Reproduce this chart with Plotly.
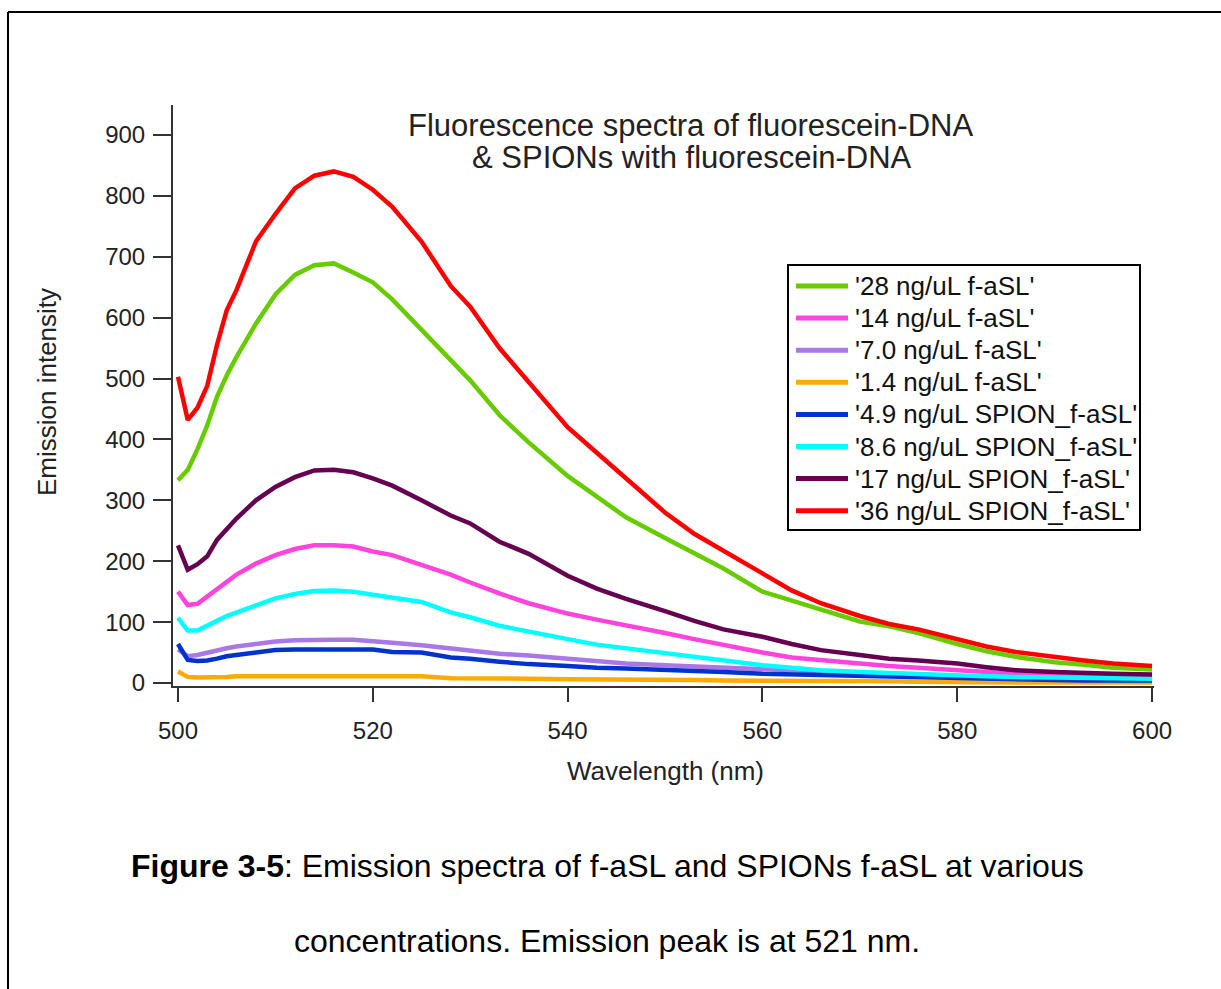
import plotly.graph_objects as go

wavelength = [500, 501, 502, 503, 504, 505, 506, 508, 510, 512, 514, 516, 518, 520, 522, 525, 528, 530,
              533, 536, 540, 543, 546, 550, 553, 556, 560, 563, 566, 570, 573, 576, 580, 583, 586, 590,
              593, 596, 600]

f28 = [333, 350, 384, 423, 470, 505, 535, 590, 638, 670, 686, 689, 674, 658, 630, 580, 530, 497,
       440, 395, 340, 307, 272, 238, 212, 188, 150, 135, 121, 101, 93, 82, 64, 52, 43, 34, 30, 25, 22]
f14 = [150, 128, 130, 142, 154, 166, 178, 196, 210, 220, 226, 226, 224, 216, 210, 194, 178, 165,
       147, 131, 114, 104, 95, 82, 72, 62, 50, 42, 37, 32, 28, 25, 21, 18, 15, 13, 11, 10, 10]
f7 = [55, 44, 46, 50, 54, 57, 60, 64, 68, 70, 71, 71, 71, 69, 66, 62, 57, 53,
      48, 45, 40, 35, 32, 29, 27, 25, 22, 20, 18, 16, 14, 13, 11, 10, 9, 8, 7, 6, 6]
f1_4 = [19, 10, 9, 9, 9, 10, 11, 11, 11, 11, 11, 11, 11, 11, 11, 11, 8, 8,
        7, 7, 6, 6, 6, 5, 5, 4, 4, 3, 3, 3, 3, 2, 1, 1, 1, 1, 1, 1, 1]
s4_9 = [64, 38, 36, 37, 40, 44, 46, 50, 54, 55, 55, 55, 55, 55, 51, 50, 42, 40,
        35, 31, 28, 25, 24, 22, 20, 18, 15, 14, 12, 11, 10, 9, 8, 7, 6, 5, 4, 4, 4]
s8_6 = [107, 86, 86, 95, 102, 110, 116, 128, 139, 146, 151, 152, 150, 145, 140, 133, 116, 108,
        94, 84, 72, 63, 57, 49, 43, 36, 29, 25, 21, 18, 16, 14, 13, 11, 10, 9, 8, 7, 7]
s17 = [226, 186, 195, 208, 235, 252, 270, 300, 322, 338, 349, 350, 346, 336, 324, 300, 275, 262,
       232, 212, 176, 155, 138, 118, 102, 88, 76, 64, 54, 46, 40, 37, 32, 26, 21, 18, 16, 15, 14]
s36 = [503, 432, 452, 488, 555, 612, 645, 725, 770, 812, 833, 840, 831, 810, 782, 725, 652, 618,
       550, 495, 420, 378, 335, 280, 245, 218, 180, 152, 131, 110, 97, 88, 71, 60, 51, 42, 37, 32, 28]

names = ["'28 ng/uL f-aSL'", "'14 ng/uL f-aSL'", "'7.0 ng/uL f-aSL'", "'1.4 ng/uL f-aSL'",
         "'4.9 ng/uL SPION_f-aSL'", "'8.6 ng/uL SPION_f-aSL'", "'17 ng/uL SPION_f-aSL'",
         "'36 ng/uL SPION_f-aSL'"]
series = [f28, f14, f7, f1_4, s4_9, s8_6, s17, s36]
colors = ["#66CC00", "#FF44DD", "#AA77E6", "#FFAA00", "#0033CC", "#00FFFF", "#660050", "#FF0000"]

xticks = [500, 520, 540, 560, 580, 600]
yticks = [0, 100, 200, 300, 400, 500, 600, 700, 800, 900]

FONT = "Arial, Liberation Sans, sans-serif"

fig = go.Figure()
for n, s, c in zip(names, series, colors):
    fig.add_trace(go.Scatter(x=wavelength, y=s, name=n, mode="lines", showlegend=False,
                             line=dict(color=c, width=4.5)))

# pixel helpers for paper coordinates
L, R, T, B = 173, 1154, 105, 686
def px(x):
    return (x - L) / (R - L)
def py(y):
    return (B - y) / (B - T)

fig.update_layout(
    width=1221, height=989,
    margin=dict(l=L, r=1221 - R, t=T, b=989 - B),
    paper_bgcolor="white", plot_bgcolor="white",
    font=dict(family=FONT, color="#222222", size=24),
    showlegend=False,
    xaxis=dict(range=[499.487, 600.2], tickvals=xticks, ticks="outside", ticklen=14,
               tickwidth=2, tickcolor="#333333", showline=True, linecolor="#333333",
               linewidth=2, showgrid=False, zeroline=False, ticklabelstandoff=8,
               tickfont=dict(size=24, family=FONT, color="#222222")),
    yaxis=dict(range=[-4.93, 949.1], tickvals=yticks, ticks="outside", ticklen=18,
               tickwidth=2, tickcolor="#333333", showline=True, linecolor="#333333",
               linewidth=2, showgrid=False, zeroline=False, ticklabelstandoff=3,
               tickfont=dict(size=24, family=FONT, color="#222222")),
)

# legend box drawn by hand to match the original's compact spacing
fig.add_shape(type="rect", xref="paper", yref="paper", x0=px(788), x1=px(1140),
              y0=py(530), y1=py(265), fillcolor="white", line=dict(color="black", width=2),
              layer="above")
for i, (n, c) in enumerate(zip(names, colors)):
    yy = 286 + i * 32.1
    fig.add_shape(type="line", xref="paper", yref="paper", x0=px(796), x1=px(848),
                  y0=py(yy), y1=py(yy), line=dict(color=c, width=5), layer="above")
    fig.add_annotation(text=n, x=px(853), y=py(yy), xref="paper", yref="paper",
                       xanchor="left", yanchor="middle", showarrow=False,
                       font=dict(size=26, family=FONT, color="#111111"))

ann = [
    dict(text="Fluorescence spectra of fluorescein-DNA", x=px(690), y=py(125), size=31),
    dict(text="& SPIONs with fluorescein-DNA", x=px(692), y=py(158), size=31),
    dict(text="Wavelength (nm)", x=px(665), y=py(771), size=26),
    dict(text="<b>Figure 3-5</b>: Emission spectra of f-aSL and SPIONs f-aSL at various",
         x=px(607), y=py(866), size=32, color="black"),
    dict(text="concentrations. Emission peak is at 521 nm.", x=px(607), y=py(941), size=32,
         color="black"),
]
for a in ann:
    fig.add_annotation(text=a["text"], x=a["x"], y=a["y"], xref="paper", yref="paper",
                       xanchor="center", yanchor="middle", showarrow=False,
                       font=dict(size=a["size"], family=FONT, color=a.get("color", "#222222")))
fig.add_annotation(text="Emission intensity", x=px(47), y=py(392), xref="paper", yref="paper",
                   textangle=-90, xanchor="center", yanchor="middle", showarrow=False,
                   font=dict(size=26, family=FONT, color="#222222"))

# page border (left and top edges)
fig.add_shape(type="line", xref="paper", yref="paper", x0=px(8), x1=px(8), y0=py(12), y1=py(995),
              line=dict(color="black", width=2))
fig.add_shape(type="line", xref="paper", yref="paper", x0=px(8), x1=px(1230), y0=py(12), y1=py(12),
              line=dict(color="black", width=2))

fig.write_html("out.html", config={"displayModeBar": False},
               post_script="document.body.style.margin='0px';")
